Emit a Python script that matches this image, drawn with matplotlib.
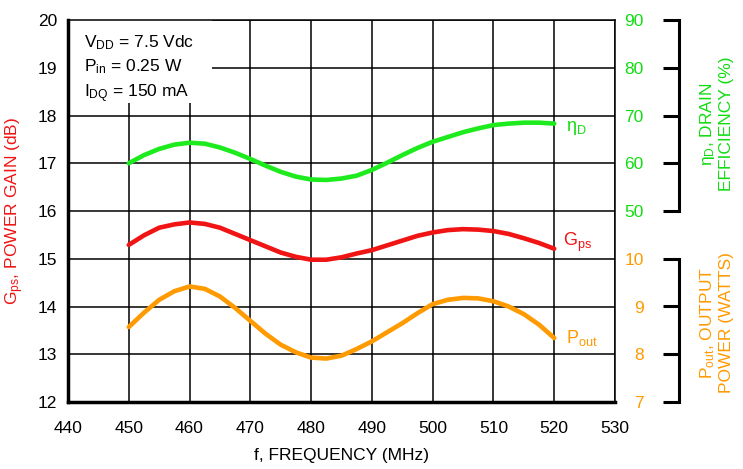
import matplotlib.pyplot as plt
from matplotlib.patches import Rectangle

plt.rcParams['font.family'] = ['Liberation Sans', 'DejaVu Sans']
plt.rcParams['mathtext.default'] = 'regular'

freq = [450, 452.5, 455, 457.5, 460, 462.5, 465, 467.5, 470, 472.5, 475, 477.5, 480, 482.5,
        485, 487.5, 490, 492.5, 495, 497.5, 500, 502.5, 505, 507.5, 510, 512.5, 515, 517.5, 520]
gain = [15.29, 15.49, 15.65, 15.72, 15.76, 15.73, 15.65, 15.52, 15.39, 15.26, 15.13, 15.04, 14.98, 14.98,
        15.03, 15.11, 15.18, 15.28, 15.38, 15.48, 15.55, 15.60, 15.62, 15.61, 15.58, 15.52, 15.43, 15.33, 15.21]
eff = [60.0, 61.7, 63.0, 63.9, 64.3, 64.1, 63.3, 62.2, 60.9, 59.5, 58.2, 57.2, 56.6, 56.5,
       56.8, 57.4, 58.6, 60.1, 61.7, 63.2, 64.5, 65.5, 66.5, 67.3, 68.0, 68.3, 68.5, 68.5, 68.3]
pout = [8.57, 8.87, 9.14, 9.32, 9.42, 9.37, 9.21, 8.97, 8.70, 8.43, 8.20, 8.04, 7.93, 7.91,
        7.97, 8.11, 8.27, 8.46, 8.65, 8.86, 9.05, 9.14, 9.18, 9.17, 9.11, 9.00, 8.84, 8.62, 8.34]

x_ticks = [440, 450, 460, 470, 480, 490, 500, 510, 520, 530]
gain_ticks = [12, 13, 14, 15, 16, 17, 18, 19, 20]
eff_ticks = [50, 60, 70, 80, 90]
pout_ticks = [7, 8, 9, 10]

RED = '#F01414'
GREEN = '#1EEB1E'
GREEN_TXT = '#11DD11'
ORANGE = '#FF9A00'

fig = plt.figure(figsize=(7.43, 4.69), dpi=100)
ax = fig.add_axes([68 / 743, 1 - 402 / 469, 547 / 743, 382 / 469])

ax.set_xlim(440, 530)
ax.set_ylim(12, 20)
ax.set_xticks(x_ticks)
ax.set_yticks(gain_ticks)
ax.grid(True, color='black', linewidth=1.1)
ax.set_axisbelow(True)
ax.tick_params(axis='both', length=0, labelsize=12.5)
ax.tick_params(axis='x', pad=14)
ax.tick_params(axis='y', pad=8)
for s in ['top', 'right']:
    ax.spines[s].set_linewidth(1.1)
for s in ['left', 'bottom']:
    ax.spines[s].set_linewidth(2.5)

# twin scales for efficiency and output power (share the grid)
ax_eff = ax.twinx()
ax_eff.set_ylim(10, 90)
ax_pw = ax.twinx()
ax_pw.set_ylim(7, 15)

for a, ticks, lo, hi, col in [(ax_eff, eff_ticks, 50, 90, GREEN_TXT), (ax_pw, pout_ticks, 7, 10, ORANGE)]:
    for s in ['top', 'right', 'bottom']:
        a.spines[s].set_visible(False)
    a.spines['left'].set_position(('axes', 1.117))
    a.spines['left'].set_bounds(lo, hi)
    a.spines['left'].set_linewidth(2.2)
    a.yaxis.set_ticks_position('left')
    a.set_yticks(ticks)
    a.tick_params(axis='y', direction='out', length=11.5, width=2.2, pad=14,
                  labelsize=12.5, labelcolor=col)

ax.plot(freq, gain, color=RED, linewidth=3.3, solid_capstyle='round', zorder=3)
ax_eff.plot(freq, eff, color=GREEN, linewidth=3.3, solid_capstyle='round', zorder=3)
ax_pw.plot(freq, pout, color=ORANGE, linewidth=3.3, solid_capstyle='round', zorder=3)

ax.text(521.5, 15.35, 'G$_{ps}$', color=RED, fontsize=13, va='center')
ax_eff.text(522, 67.3, '$\\eta_{D}$', color=GREEN_TXT, fontsize=13, va='center')
ax_pw.text(522, 8.35, 'P$_{out}$', color=ORANGE, fontsize=13, va='center')

# white box behind the test conditions
ax.add_patch(Rectangle((440, 18.26), 23.7, 1.74, facecolor='white', edgecolor='none', zorder=1))
ax.text(442.6, 19.72,
        'V$_{DD}$ = 7.5 Vdc\nP$_{in}$ = 0.25 W\nI$_{DQ}$ = 150 mA',
        fontsize=12.5, va='top', ha='left', linespacing=1.4, zorder=4)

ax.set_xlabel('f, FREQUENCY (MHz)', fontsize=12.5, labelpad=8)
ax.set_ylabel('G$_{ps}$, POWER GAIN (dB)', fontsize=12.5, color=RED, labelpad=8)

fig.text(716 / 743, 1 - 124 / 469, '$\\eta_{D}$, DRAIN\nEFFICIENCY (%)',
         rotation=90, color=GREEN_TXT, fontsize=12.5, ha='center', va='center',
         multialignment='center')
fig.text(716 / 743, 1 - 323 / 469, 'P$_{out}$, OUTPUT\nPOWER (WATTS)',
         rotation=90, color=ORANGE, fontsize=12.5, ha='center', va='center',
         multialignment='center')

fig.savefig('out.png', dpi=100)
